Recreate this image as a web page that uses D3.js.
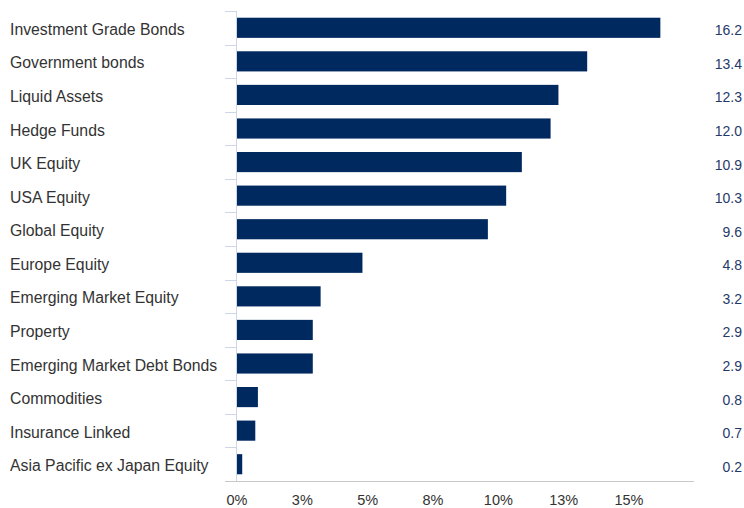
<!DOCTYPE html>
<html>
<head>
<meta charset="utf-8">
<script src="https://cdn.jsdelivr.net/npm/d3@7"></script>
<style>
  html, body { margin: 0; padding: 0; background: #fff; }
  svg { display: block; font-family: Arial, "Liberation Sans", sans-serif; }
</style>
</head>
<body>
<svg id="chart" width="744" height="508"></svg>
<script>
// Asset class allocation (%)
const categories = [
  "Investment Grade Bonds", "Government bonds", "Liquid Assets", "Hedge Funds",
  "UK Equity", "USA Equity", "Global Equity", "Europe Equity",
  "Emerging Market Equity", "Property", "Emerging Market Debt Bonds",
  "Commodities", "Insurance Linked", "Asia Pacific ex Japan Equity"
];
const values = [16.2, 13.4, 12.3, 12.0, 10.9, 10.3, 9.6, 4.8, 3.2, 2.9, 2.9, 0.8, 0.7, 0.2];
const tickValues = [0, 2.5, 5, 7.5, 10, 12.5, 15];
const tickLabels = ["0%", "3%", "5%", "8%", "10%", "13%", "15%"];

const svg = d3.select("#chart");
const plotLeft = 237, plotRight = 694, plotTop = 11, plotBottom = 481;

const x = d3.scaleLinear().domain([0, 15]).range([plotLeft, plotLeft + 392]);
const y = d3.scaleBand().domain(categories).range([plotTop, plotBottom]).paddingInner(0.4).paddingOuter(0.2);

// category separators on the left of the value axis
const sepG = svg.append("g");
d3.range(categories.length).forEach(i => {
  const yy = Math.round(plotTop + i * (plotBottom - plotTop) / categories.length) + 0.5;
  sepG.append("line").attr("x1", 225).attr("x2", plotLeft).attr("y1", yy).attr("y2", yy)
    .attr("stroke", "#cdd6e8").attr("stroke-width", 1);
});

// bars
svg.append("g").selectAll("rect").data(values).join("rect")
  .attr("x", x(0))
  .attr("y", (d, i) => y(categories[i]))
  .attr("width", d => x(d) - x(0))
  .attr("height", y.bandwidth())
  .attr("fill", "#002960");

// vertical baseline
svg.append("line").attr("x1", plotLeft - 0.5).attr("x2", plotLeft - 0.5).attr("y1", plotTop).attr("y2", plotBottom)
  .attr("stroke", "#cdd6e8").attr("stroke-width", 1);

// bottom axis line
svg.append("line").attr("x1", 225).attr("x2", plotRight).attr("y1", plotBottom + 0.5).attr("y2", plotBottom + 0.5)
  .attr("stroke", "#c8c8c8").attr("stroke-width", 1);

// x tick labels
svg.append("g").selectAll("text").data(tickValues).join("text")
  .attr("x", d => x(d))
  .attr("y", 505)
  .attr("text-anchor", "middle")
  .attr("font-size", 14.5)
  .attr("fill", "#333")
  .text((d, i) => tickLabels[i]);

// category labels
svg.append("g").selectAll("text").data(categories).join("text")
  .attr("x", 10)
  .attr("y", d => y(d) + y.bandwidth() / 2 + 7)
  .attr("font-size", 15.8)
  .attr("fill", "#333")
  .text(d => d);

// value labels
svg.append("g").selectAll("text").data(values).join("text")
  .attr("x", 742)
  .attr("y", (d, i) => y(categories[i]) + y.bandwidth() / 2 + 7.5)
  .attr("text-anchor", "end")
  .attr("font-size", 14)
  .attr("fill", "#1f3a6b")
  .text(d => d.toFixed(1));
</script>
</body>
</html>
